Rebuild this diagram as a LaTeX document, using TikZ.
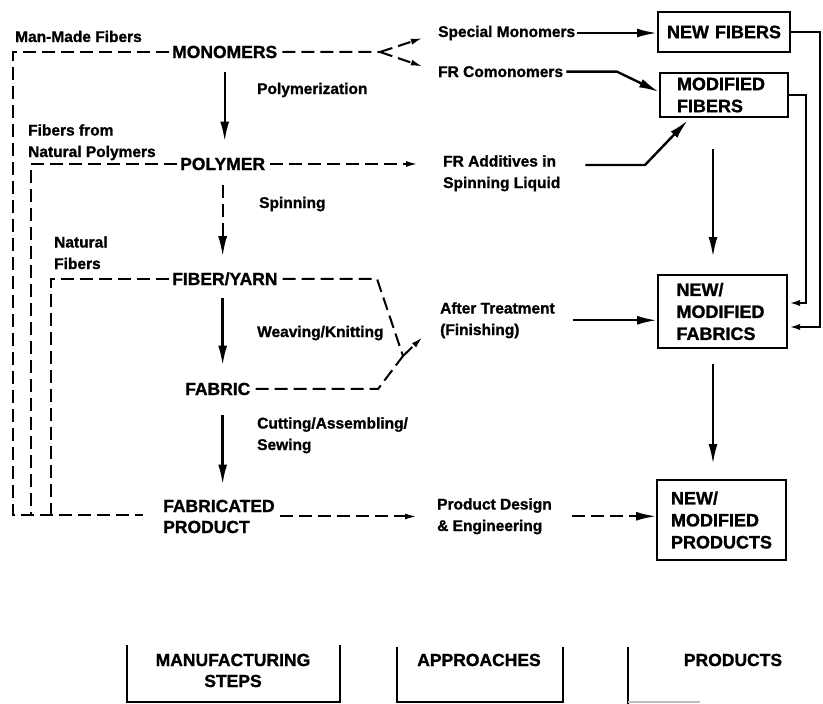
\documentclass[tikz,border=0pt]{standalone}
\usepackage{fontspec}
\setmainfont{Liberation Sans}[BoldFeatures={FakeBold=1.2}]
\usetikzlibrary{arrows.meta}
\begin{document}
\begin{tikzpicture}[x=1pt,y=-1pt,
  capt/.style={font=\fontsize{17.5}{21}\selectfont\bfseries, inner sep=0pt, align=left},
  lab/.style={font=\fontsize{15.5}{21.5}\selectfont\bfseries, inner sep=0pt, align=left},
  bx/.style={draw, line width=2pt, font=\fontsize{18}{22}\selectfont\bfseries, align=left, inner ysep=0pt},
  sol/.style={line width=2.4pt},
  dsh/.style={line width=2pt, dash pattern=on 13pt off 6pt},
  tip/.style={-{Latex[length=20pt,width=9pt]}},
  stip/.style={-{Latex[length=12pt,width=6pt]}},
  brk/.style={line width=1.6pt},
]
\fill[white] (0,0) rectangle (823,704);
\useasboundingbox (0,0) rectangle (823,704);

% left column texts (base anchor = baseline of the last line)
\node[lab, anchor=base west] (mm) at (15,42) {Man-Made Fibers};
\node[capt, anchor=base west] (mono) at (172,58) {MONOMERS};
\node[lab, anchor=base west] (polz) at (257,94) {Polymerization};
\node[lab, anchor=base west] (fnp) at (28,157) {Fibers from\\Natural Polymers};
\node[capt, anchor=base west] (poly) at (180,170) {POLYMER};
\node[lab, anchor=base west] (spin) at (259,208) {Spinning};
\node[lab, anchor=base west] (nf) at (54,269) {Natural\\Fibers};
\node[capt, anchor=base west] (fy) at (172,285) {FIBER/YARN};
\node[lab, anchor=base west] (wk) at (257,337) {Weaving/Knitting};
\node[capt, anchor=base west] (fab) at (185,395) {FABRIC};
\node[lab, anchor=base west] (cas) at (257,450) {Cutting/Assembling/\\Sewing};
\node[capt, anchor=base west] (fp) at (163,533) {FABRICATED\\PRODUCT};

% approaches
\node[lab, anchor=base west] (sm) at (438,37) {Special Monomers};
\node[lab, anchor=base west] (frc) at (438,77) {FR Comonomers};
\node[lab, anchor=base west] (fra) at (443,188) {FR Additives in\\Spinning Liquid};
\node[lab, anchor=base west] (at) at (440,335) {After Treatment\\(Finishing)};
\node[lab, anchor=base west] (pd) at (437,531) {Product Design\\\& Engineering};

% product boxes
\node[bx, minimum height=40pt, text width=122pt, inner xsep=5pt, align=center] (nfb) at (724,32) {NEW FIBERS};
\node[bx, minimum height=44pt, text width=94pt, inner xsep=17pt] (mfb) at (724,95) {MODIFIED\\FIBERS};
\node[bx, minimum height=73pt, text width=92pt, inner xsep=18.5pt] (fabb) at (722.5,311.5) {NEW/\\MODIFIED\\FABRICS};
\node[bx, minimum height=80pt, text width=101pt, inner xsep=14pt] (prb) at (721.5,520) {NEW/\\MODIFIED\\PRODUCTS};

% feedback lines on the left
\coordinate (b1) at (13,515);
\coordinate (b2) at (31,515);
\coordinate (b3) at (51,515);
\coordinate (bend) at (143,515);
\draw[dsh, shorten <=3pt] (mono.west) -| (b1) -- (bend);
\draw[dsh, shorten <=3pt] (poly.west) -| (b2);
\draw[dsh, shorten <=3pt] (fy.west) -| (b3);

% monomers fork
\coordinate (fork) at (380,52);
\draw[dsh, shorten <=5pt] (mono.east) -- (fork);
\draw[dsh, stip, shorten >=16pt] (fork) -- (sm.west);
\draw[dsh, stip, shorten >=16pt] (fork) -- (frc.west);

% polymer to additives
\draw[dsh, stip, shorten <=5pt, shorten >=25pt] (poly.east) -- (poly.east -| fra.west);

% approaches to fibers
\draw[sol, tip, shorten <=2pt] (sm.east) -- (sm.east -| nfb.west);
\coordinate (k1) at (617,71);
\draw[sol, tip, shorten <=3pt] (frc.east) -- (frc.east -| k1) -- ([yshift=3pt]mfb.west);
\coordinate (k2) at (645,165);
\draw[sol, tip, shorten <=25pt, shorten >=3pt] (fra.east |- k2) -- (k2) -- ([xshift=-34pt]mfb.south);

% fibers to fabrics
\draw[sol, tip, shorten <=31pt, shorten >=17pt] ([xshift=-11pt]mfb.south) -- ([xshift=-11pt]mfb.south |- fabb.north);
\coordinate (r1) at (820,327);
\coordinate (r2) at (806,303);
\draw[sol, stip] (nfb.east) -| (r1) -- (fabb.east |- r1);
\draw[sol, stip] (mfb.east) -| (r2) -- (fabb.east |- r2);

% after treatment
\coordinate (c1) at (377,279);
\coordinate (c2) at (378,389);
\coordinate (jn) at (403,356);
\draw[dsh, shorten <=5pt] (fy.east) -- (fy.east -| c1) -- (jn);
\draw[dsh, shorten <=5pt] (fab.east) -- (fab.east -| c2) -- (jn);
\draw[dsh, stip, shorten >=24pt] (jn) -- (at.west);
\draw[sol, tip, shorten <=18pt] (at.east) -- (fabb.west |- at.east);

% fabrics to products
\draw[sol, tip, shorten <=15pt, shorten >=15pt] ([xshift=-9.5pt]fabb.south) -- ([xshift=-9.5pt]fabb.south |- prb.north);
\draw[dsh, tip, shorten <=20pt] (pd.east) -- (prb.west |- pd.east);
\draw[dsh, stip, shorten <=5pt, shorten >=20pt] (fp.east) -- (fp.east -| pd.west);

% central process arrows
\draw[sol, tip, shorten <=14pt, shorten >=16pt] (mono.south) -- (mono.south |- poly.north);
\draw[dsh, tip, shorten <=15pt, shorten >=16pt] (poly.south) -- (poly.south |- fy.north);
\draw[sol, tip, shorten <=12pt, shorten >=17pt] (poly.south |- fy.south) -- (poly.south |- fab.north);
\draw[sol, tip, shorten <=20pt, shorten >=15pt] (poly.south |- fab.south) -- (poly.south |- fp.north);

% column headers
\node[capt, align=center, anchor=base] (hm) at (233,687) {MANUFACTURING\\STEPS};
\node[capt, anchor=base] (ha) at (479,666) {APPROACHES};
\node[capt, anchor=base] (hp) at (733,666) {PRODUCTS};
\draw[brk] (127,645) -- (127,702) -- (340,702) -- (340,645);
\draw[brk] (397,647) -- (397,702) -- (563,702) -- (563,647);
\draw[brk] (628,647) -- (628,704);
\draw[line width=1.2pt, black!25] (628,702) -- (700,702);
\end{tikzpicture}
\end{document}
